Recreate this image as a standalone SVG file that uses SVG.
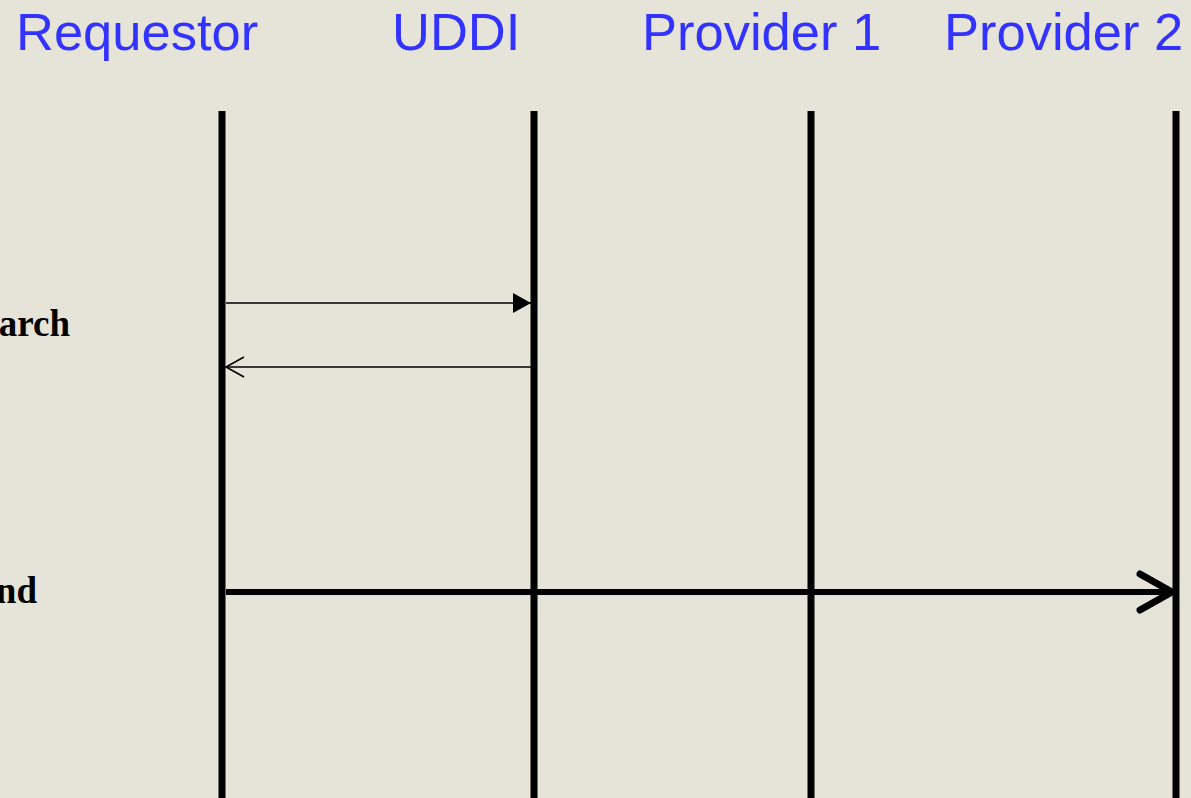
<svg xmlns="http://www.w3.org/2000/svg" width="1191" height="798" viewBox="0 0 1191 798">
<style>
.hdr{font-family:"Liberation Sans",Arial,sans-serif;font-size:52.5px;fill:#3333FF}
.lbl{font-family:"Liberation Serif","Times New Roman",serif;font-size:37px;font-weight:bold;fill:#000}
.life{stroke:#000;stroke-width:7;fill:none}
.msg{stroke:#000;stroke-width:1.6;fill:none}
</style>
<defs>
<marker id="fill" markerUnits="userSpaceOnUse" markerWidth="20" markerHeight="22" refX="18" refY="10" orient="auto">
<path d="M0,0 L18,10 L0,20 Z" fill="#000"/>
</marker>
</defs>
<rect width="1191" height="798" fill="#E6E3D9"/>
<g id="requestor"><text class="hdr" x="16" y="50">Requestor</text><line class="life" x1="222" y1="111" x2="222" y2="798"/></g>
<g id="uddi"><text class="hdr" x="392" y="50">UDDI</text><line class="life" x1="534" y1="111" x2="534" y2="798"/></g>
<g id="provider1"><text class="hdr" x="642" y="50">Provider 1</text><line class="life" x1="811" y1="111" x2="811" y2="798"/></g>
<g id="provider2"><text class="hdr" x="944" y="50">Provider 2</text><line class="life" x1="1176" y1="111" x2="1176" y2="798"/></g>
<g id="labels">
<text class="lbl" x="70" y="336" text-anchor="end">Search</text>
<text class="lbl" x="37" y="603" text-anchor="end">Find</text>
</g>
<g id="connectors">
<line class="msg" x1="226" y1="303" x2="531" y2="303" marker-end="url(#fill)"/>
<line class="msg" x1="531" y1="367" x2="226" y2="367"/>
<path class="msg" d="M244,357 L226,367 L244,377"/>
<line x1="226" y1="592" x2="1172" y2="592" stroke="#000" stroke-width="6"/>
<path d="M1140,574 L1172,592 L1140,610" fill="none" stroke="#000" stroke-width="7" stroke-linecap="round" stroke-linejoin="round"/>
</g>
</svg>
